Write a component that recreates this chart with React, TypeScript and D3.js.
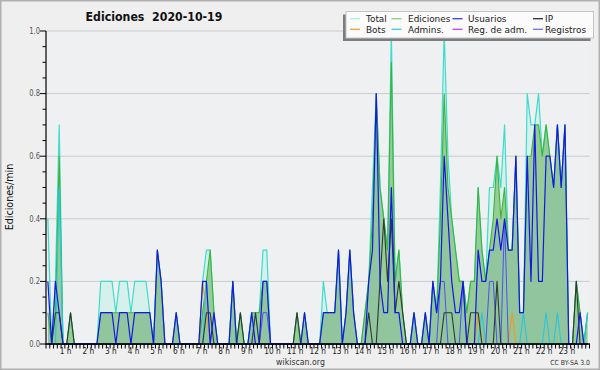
import { useRef, useEffect } from 'react'
import * as d3 from 'd3'

const FONT = "'DejaVu Sans', sans-serif"

// edits per 10-minute slot, one row per hour (value / 10 = edits per minute)
const total = [
  4, 0, 2, 7, 0, 0, 1, 0, 0, 0, 0, 0, 0, 0, 2, 2, 2, 2, 1, 2, 2, 2, 1, 2,
  2, 2, 2, 1, 0, 3, 2, 0, 0, 0, 1, 0, 0, 0, 0, 0, 0, 2, 3, 3, 1, 0, 0, 0,
  0, 2, 0, 1, 0, 0, 1, 1, 1, 3, 3, 0, 0, 0, 0, 0, 0, 0, 1, 0, 1, 0, 0, 0,
  0, 2, 1, 1, 1, 3, 0, 1, 3, 1, 0, 0, 1, 2, 5, 8, 5, 4, 3, 10, 2, 3, 1, 0,
  0, 1, 0, 0, 1, 0, 2, 1, 5, 10, 6, 4, 3, 2, 2, 1, 2, 2, 5, 3, 2, 5, 5, 6,
  5, 7, 3, 3, 6, 1, 1, 8, 7, 7, 8, 6, 7, 6, 5, 7, 5, 7, 0, 0, 2, 1, 0, 1,
]
const ediciones = [
  1, 0, 1, 6, 0, 0, 1, 0, 0, 0, 0, 0, 0, 0, 1, 1, 1, 1, 1, 1, 1, 1, 1, 1,
  1, 1, 1, 1, 0, 3, 2, 0, 0, 0, 1, 0, 0, 0, 0, 0, 0, 1, 2, 3, 1, 0, 0, 0,
  0, 2, 0, 1, 0, 0, 1, 1, 1, 2, 2, 0, 0, 0, 0, 0, 0, 0, 1, 0, 1, 0, 0, 0,
  0, 1, 1, 1, 1, 3, 0, 1, 3, 1, 0, 0, 1, 2, 4, 8, 5, 4, 3, 9, 2, 3, 1, 0,
  0, 1, 0, 0, 1, 0, 2, 1, 4, 8, 5, 4, 3, 2, 2, 1, 2, 2, 5, 3, 2, 3, 4, 6,
  4, 5, 3, 3, 6, 1, 1, 6, 6, 7, 7, 6, 7, 6, 5, 7, 5, 7, 0, 0, 2, 1, 0, 1,
]
const usuarios = [
  2, 0, 2, 1, 0, 0, 0, 0, 0, 0, 0, 0, 0, 0, 1, 1, 1, 1, 0, 1, 1, 1, 0, 1,
  1, 1, 1, 1, 0, 3, 2, 0, 0, 0, 1, 0, 0, 0, 0, 0, 0, 2, 2, 0, 1, 0, 0, 0,
  0, 2, 0, 0, 0, 0, 1, 0, 0, 2, 2, 0, 0, 0, 0, 0, 0, 0, 0, 0, 1, 0, 0, 0,
  0, 1, 1, 1, 1, 3, 0, 1, 3, 1, 0, 0, 0, 2, 3, 8, 2, 1, 1, 5, 1, 1, 0, 0,
  0, 1, 0, 0, 1, 0, 2, 1, 2, 6, 4, 2, 1, 1, 2, 0, 0, 0, 3, 2, 2, 3, 3, 4,
  3, 4, 3, 3, 6, 1, 1, 6, 2, 7, 2, 2, 6, 6, 5, 7, 5, 7, 0, 0, 0, 1, 0, 0,
]
const ip = [
  0, 0, 1, 1, 0, 0, 1, 0, 0, 0, 0, 0, 0, 0, 0, 0, 0, 0, 0, 0, 0, 0, 0, 0,
  0, 0, 0, 0, 0, 0, 0, 0, 0, 0, 0, 0, 0, 0, 0, 0, 0, 0, 1, 1, 0, 0, 0, 0,
  0, 0, 0, 1, 0, 0, 0, 1, 0, 0, 0, 0, 0, 0, 0, 0, 0, 0, 1, 0, 0, 0, 0, 0,
  0, 0, 0, 0, 0, 0, 0, 0, 0, 0, 0, 0, 0, 1, 0, 0, 2, 4, 2, 4, 1, 2, 1, 0,
  0, 0, 0, 0, 0, 0, 0, 0, 0, 1, 1, 1, 0, 0, 0, 0, 1, 1, 1, 0, 0, 0, 0, 2,
  0, 0, 0, 0, 0, 0, 0, 0, 0, 0, 0, 0, 0, 0, 0, 0, 0, 0, 0, 0, 2, 0, 0, 0,
]
const bots = [
  0, 0, 0, 0, 0, 0, 0, 0, 0, 0, 0, 0, 0, 0, 0, 0, 0, 0, 0, 0, 0, 0, 0, 0,
  0, 0, 0, 0, 0, 0, 0, 0, 0, 0, 0, 0, 0, 0, 0, 0, 0, 2, 1, 0, 0, 0, 0, 0,
  0, 0, 0, 0, 0, 0, 0, 0, 0, 0, 0, 0, 0, 0, 0, 0, 0, 0, 0, 0, 0, 0, 0, 0,
  0, 0, 0, 0, 0, 0, 0, 0, 0, 0, 0, 0, 0, 0, 0, 0, 0, 0, 0, 0, 0, 0, 0, 0,
  0, 0, 0, 0, 0, 0, 0, 0, 0, 0, 0, 0, 0, 0, 0, 0, 0, 0, 1, 0, 0, 0, 0, 0,
  0, 0, 0, 1, 0, 0, 0, 0, 0, 0, 0, 0, 0, 0, 0, 0, 0, 0, 0, 0, 0, 0, 0, 0,
]
const admins = [
  0, 0, 0, 5, 0, 0, 0, 0, 0, 0, 0, 0, 0, 0, 0, 0, 0, 0, 0, 0, 0, 0, 0, 0,
  0, 0, 0, 0, 0, 0, 0, 0, 0, 0, 0, 0, 0, 0, 0, 0, 0, 0, 2, 0, 0, 0, 0, 0,
  0, 0, 0, 0, 0, 0, 1, 1, 0, 0, 0, 0, 0, 0, 0, 0, 0, 0, 0, 0, 0, 0, 0, 0,
  0, 0, 0, 0, 0, 0, 0, 0, 0, 0, 0, 0, 0, 0, 0, 0, 0, 0, 0, 0, 0, 0, 0, 0,
  0, 0, 0, 0, 0, 0, 0, 0, 0, 0, 0, 0, 0, 0, 0, 0, 0, 0, 0, 1, 0, 0, 0, 0,
  0, 0, 0, 0, 0, 0, 1, 0, 0, 0, 0, 0, 1, 0, 0, 1, 0, 0, 0, 0, 0, 0, 0, 1,
]
const registros = [
  0, 0, 0, 0, 0, 0, 0, 0, 0, 0, 0, 0, 0, 0, 0, 0, 0, 0, 0, 0, 0, 0, 0, 0,
  0, 0, 0, 0, 0, 0, 0, 0, 0, 0, 0, 0, 0, 0, 0, 0, 0, 0, 0, 0, 0, 0, 0, 0,
  0, 0, 0, 0, 0, 0, 0, 0, 0, 1, 1, 0, 0, 0, 0, 0, 0, 0, 0, 0, 0, 0, 0, 0,
  0, 0, 0, 0, 0, 0, 0, 0, 0, 0, 0, 0, 0, 0, 0, 0, 0, 0, 0, 0, 0, 0, 0, 0,
  0, 0, 0, 0, 0, 0, 0, 0, 2, 2, 0, 0, 0, 0, 2, 0, 0, 0, 0, 0, 0, 2, 2, 0,
  0, 4, 0, 0, 0, 0, 0, 0, 0, 0, 0, 0, 0, 0, 0, 0, 0, 0, 0, 0, 0, 0, 0, 0,
]

const hourLabels = ['1 h', '2 h', '3 h', '4 h', '5 h', '6 h', '7 h', '8 h', '9 h', '10 h', '11 h', '12 h',
  '13 h', '14 h', '15 h', '16 h', '17 h', '18 h', '19 h', '20 h', '21 h', '22 h', '23 h']
const yTickValues = [0, 0.2, 0.4, 0.6, 0.8, 1.0]
const legendNames = ['Total', 'Ediciones', 'Usuarios', 'IP', 'Bots', 'Admins.', 'Reg. de adm.', 'Registros']
const legendColors = ['#b4ece4', '#86d086', '#3b3be0', '#303030', '#f0a040', '#3ccce0', '#d040e0', '#7070f0']

// narrow text: the original uses a condensed face, so squeeze the glyphs
const addText = (parent, x, y, str, size, sx, opts = {}) => {
  const t = parent.append('text')
    .attr('x', opts.rotate ? 0 : x)
    .attr('y', opts.rotate ? 0 : y)
    .attr('font-size', size)
    .attr('text-anchor', opts.anchor || 'start')
    .attr('fill', opts.fill || '#222')
    .attr('font-weight', opts.weight || 'normal')
    .style('white-space', 'pre')
    .text(str)
  if (opts.rotate) t.attr('transform', `translate(${x},${y}) rotate(${opts.rotate})`)
  if (opts.dy) t.attr('dy', opts.dy)
  const len = t.node().getComputedTextLength()
  if (len > 0) t.attr('textLength', len * sx).attr('lengthAdjust', 'spacingAndGlyphs')
  return t
}

const useChart = () => {
  const ref = useRef(null)

  useEffect(() => {
    const svg = d3.select(ref.current)
      .append('svg')
      .attr('width', 600)
      .attr('height', 370)
      .style('position', 'absolute')
      .style('left', 0)
      .style('top', 0)
      .style('font-family', FONT)

    const x = d3.scaleLinear().domain([0, 1440]).range([46, 589.5])
    const y = d3.scaleLinear().domain([0, 1]).range([344, 31])
    const bx = (i) => x(i * 10 + 5)
    const by = (c) => y(c / 10)

    svg.append('rect').attr('width', 600).attr('height', 370).attr('fill', '#efefef')
      .attr('stroke', '#b0b0b0').attr('stroke-width', 3)
    svg.append('rect').attr('x', 46).attr('y', 31).attr('width', 543.5).attr('height', 313)
      .attr('fill', '#eef0f2')

    // grid
    svg.append('g').selectAll('line').data(yTickValues.slice(1)).join('line')
      .attr('x1', 46).attr('x2', 589.5)
      .attr('y1', d => y(d)).attr('y2', d => y(d))
      .attr('stroke', '#c9cbcd').attr('stroke-width', 1)

    const area = d3.area().x((_, i) => bx(i)).y0(y(0)).y1(d => by(d))
    const line = d3.line().x((_, i) => bx(i)).y(d => by(d))

    svg.append('path').datum(total).attr('d', area).attr('fill', '#d6f1ec')
    svg.append('path').datum(ediciones).attr('d', area).attr('fill', '#97cc97')
    svg.append('path').datum(usuarios).attr('d', area).attr('fill', 'rgb(40,80,255)').attr('opacity', 0.06)

    const lines = [
      [total, '#3fdccc', 1.2],
      [ediciones, '#3cb43c', 1.1],
      [bots, '#f09a20', 1.1],
      [admins, '#2cc4dc', 1.1],
      [registros, '#5050f0', 1],
      [ip, '#2e3a30', 1.1],
      [usuarios, '#1616e6', 1.2],
    ]
    lines.forEach(([data, color, w]) => {
      svg.append('path').datum(data).attr('d', line)
        .attr('fill', 'none').attr('stroke', color).attr('stroke-width', w)
        .attr('stroke-linejoin', 'round')
    })

    // axes
    const ax = svg.append('g').attr('stroke', '#000')
    ax.append('line').attr('x1', 46).attr('x2', 46).attr('y1', 31).attr('y2', 344.5).attr('stroke-width', 1.2)
    ax.append('line').attr('x1', 45.5).attr('x2', 590).attr('y1', 344).attr('y2', 344).attr('stroke-width', 1.5)
    ax.selectAll('.yt').data(d3.range(0, 21)).join('line')
      .attr('x1', d => d % 4 === 0 ? 40 : 42.5).attr('x2', 46)
      .attr('y1', d => y(d / 20)).attr('y2', d => y(d / 20))
      .attr('stroke-width', 1)
    ax.selectAll('.xt').data(d3.range(0, 145)).join('line')
      .attr('x1', d => x(d * 10)).attr('x2', d => x(d * 10))
      .attr('y1', 344).attr('y2', 348.5)
      .attr('stroke-width', 1)

    const yl = svg.append('g')
    yTickValues.forEach(v => addText(yl, 40, y(v), v.toFixed(1), 8, 0.85, { anchor: 'end', fill: '#555', dy: '0.35em' }))

    const xl = svg.append('g')
    hourLabels.forEach((h, i) => addText(xl, x((i + 1) * 60) - (i < 9 ? 3 : 0), 353.5, h, 9, 0.82, { anchor: 'middle', fill: '#222' }))

    addText(svg, 154, 21, 'Ediciones  2020-10-19', 12.5, 0.88, { anchor: 'middle', weight: 'bold', fill: '#111' })
    addText(svg, 13, 197, 'Ediciones/min', 10.5, 0.91, { anchor: 'middle', rotate: -90, fill: '#111' })
    addText(svg, 300.5, 364.5, 'wikiscan.org', 9, 0.87, { anchor: 'middle', fill: '#333' })
    addText(svg, 590, 365, 'CC BY-SA 3.0', 7, 0.88, { anchor: 'end', fill: '#333' })

    // legend
    const lg = svg.append('g')
    lg.append('rect').attr('x', 343).attr('y', 14.5).attr('width', 247.5).attr('height', 26.5).attr('fill', '#7c7c7c')
    lg.append('rect').attr('x', 346).attr('y', 11.5).attr('width', 247.5).attr('height', 26.5)
      .attr('fill', '#fbfbfb').attr('stroke', '#c4c4c4').attr('stroke-width', 1)
    const colSw = [350, 391.5, 452.5, 533]
    const colTx = [366, 408, 468, 545]
    legendNames.forEach((name, i) => {
      const ry = i < 4 ? 18.7 : 29.3
      lg.append('line')
        .attr('x1', colSw[i % 4]).attr('x2', colSw[i % 4] + 10)
        .attr('y1', ry).attr('y2', ry)
        .attr('stroke', legendColors[i]).attr('stroke-width', 1.3)
      addText(lg, colTx[i % 4], ry, name, 9.2, 0.97, { dy: '0.35em' })
    })

    return () => svg.remove()
  }, [])

  return ref
}

const App = () => {
  const ref = useChart()
  return <div ref={ref} />
}

export default App
